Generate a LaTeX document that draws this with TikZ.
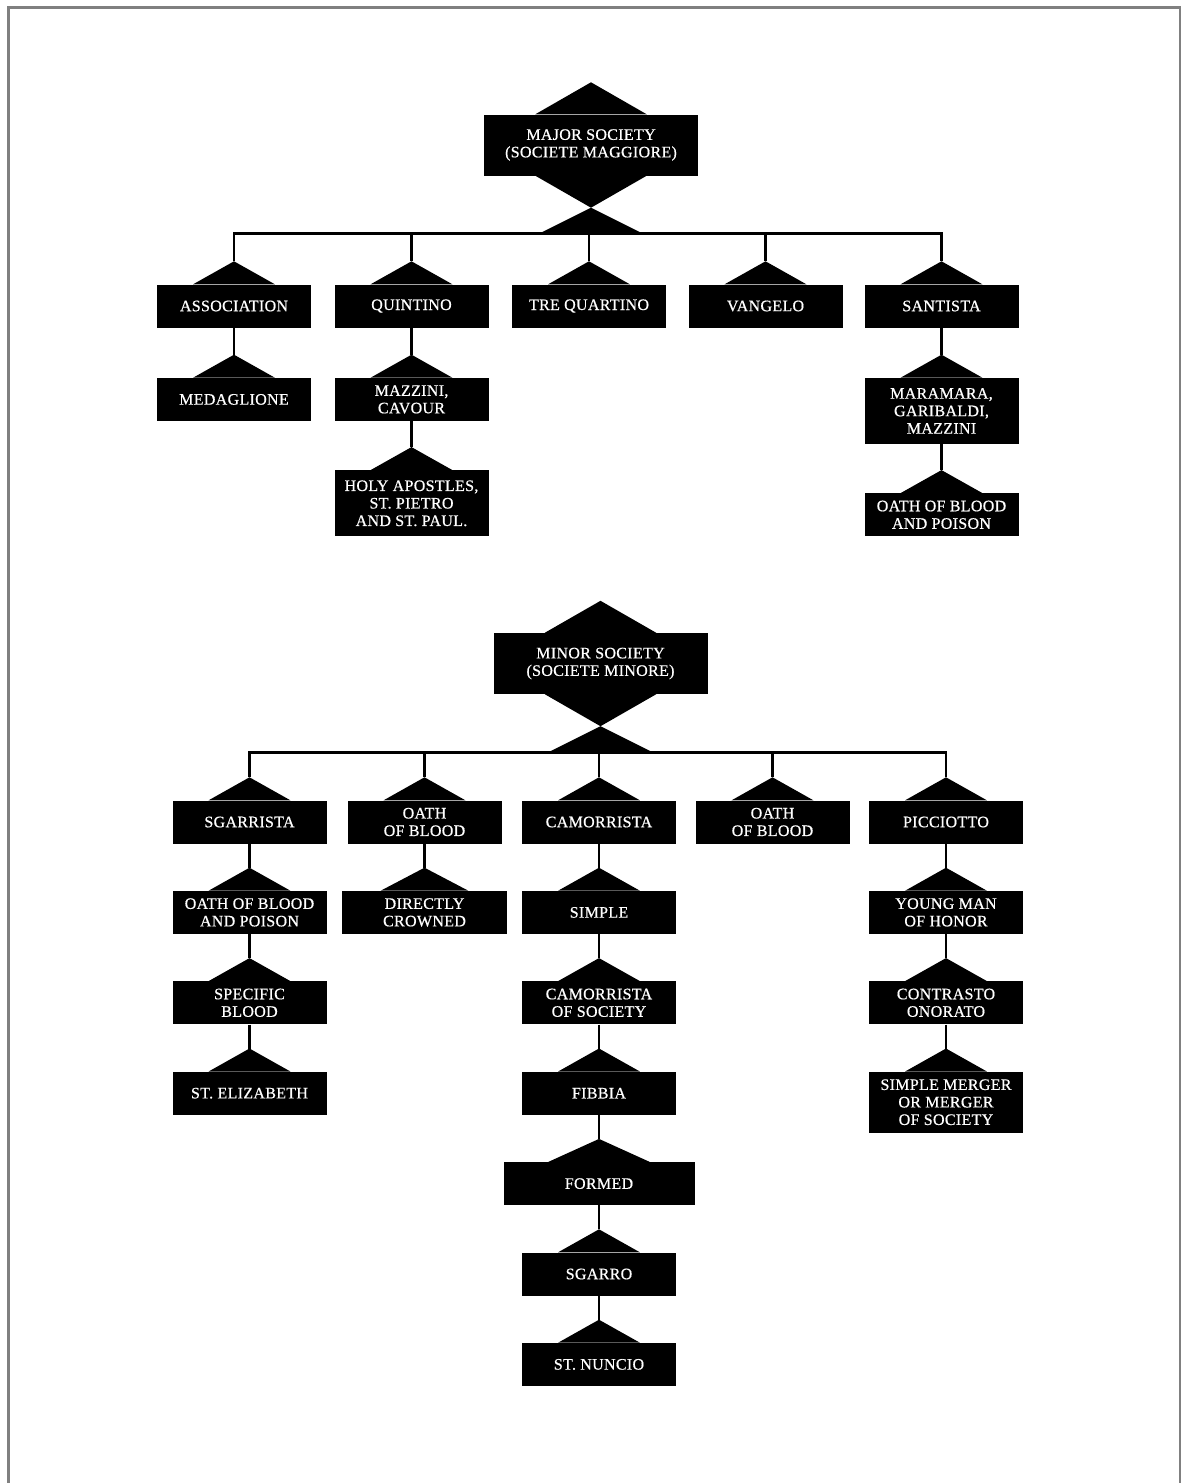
\documentclass[tikz,border=0pt]{standalone}
\usepackage{fontspec}
\newfontfamily\rankfont[LetterSpace=2, FakeBold=0.6]{Liberation Serif}
\usetikzlibrary{positioning,calc}

\begin{document}
\begin{tikzpicture}[x=1pt, y=1pt, node distance=50pt,
  rank/.style={fill=black, text=white, align=center, inner xsep=4pt, inner ysep=7pt,
               minimum width=154pt, minimum height=43pt,
               font=\rankfont\fontsize{16}{17.5}\selectfont},
  tall/.style={minimum height=66pt},
  head/.style={rank, minimum width=214pt, minimum height=61pt},
  link/.style={line width=2.8pt}]
  \useasboundingbox (0,0) rectangle (1181,-1483);
  \draw[line width=2.5pt, black!50] (8.5,-1483) -- (8.5,-7.5) -- (1180,-7.5) -- (1180,-1483);

  % major society
  \node[head] (major) at (591,-145) {MAJOR SOCIETY\\(SOCIETE MAGGIORE)};
  \node[rank] (assoc) at (234,-306)   {ASSOCIATION};
  \node[rank] (quint) at (411.5,-306) {QUINTINO};
  \node[rank] (tre)   at (589,-306)   {TRE QUARTINO};
  \node[rank] (vang)  at (765.5,-306) {VANGELO};
  \node[rank] (sant)  at (941.5,-306) {SANTISTA};
  \node[rank, below=of assoc] (medag) {MEDAGLIONE};
  \node[rank, below=of quint] (mazz)  {MAZZINI,\\CAVOUR};
  \node[rank, tall, below=49pt of mazz] (holy) {HOLY APOSTLES,\\ST. PIETRO\\AND ST. PAUL.};
  \node[rank, tall, below=of sant] (mara) {MARAMARA,\\GARIBALDI,\\MAZZINI};
  \node[rank, below=49pt of mara] (poison) {OATH OF BLOOD\\AND POISON};

  % minor society
  \begin{scope}[node distance=47pt]
  \node[head] (minor) at (600.5,-663.5) {MINOR SOCIETY\\(SOCIETE MINORE)};
  \node[rank] (sgar)  at (249.5,-822) {SGARRISTA};
  \node[rank] (oathb) at (424.5,-822) {OATH\\OF BLOOD};
  \node[rank] (camor) at (599,-822)   {CAMORRISTA};
  \node[rank] (oathc) at (772.5,-822) {OATH\\OF BLOOD};
  \node[rank] (picc)  at (946,-822)   {PICCIOTTO};
  \node[rank, below=of sgar]   (sgpois) {OATH OF BLOOD\\AND POISON};
  \node[rank, below=of sgpois] (spec)   {SPECIFIC\\BLOOD};
  \node[rank, below=of spec]   (eliz)   {ST. ELIZABETH};
  \node[rank, below=of oathb, minimum width=165pt] (crown) {DIRECTLY\\CROWNED};
  \node[rank, below=of camor]  (simple) {SIMPLE};
  \node[rank, below=of simple] (camsoc) {CAMORRISTA\\OF SOCIETY};
  \node[rank, below=of camsoc] (fibbia) {FIBBIA};
  \node[rank, below=of fibbia, minimum width=191pt] (formed) {FORMED};
  \node[rank, below=of formed] (sgarro) {SGARRO};
  \node[rank, below=of sgarro] (nuncio) {ST. NUNCIO};
  \node[rank, below=of picc]   (young)  {YOUNG MAN\\OF HONOR};
  \node[rank, below=of young]  (contr)  {CONTRASTO\\ONORATO};
  \node[rank, below=of contr, minimum height=61pt] (merger) {SIMPLE MERGER\\OR MERGER\\OF SOCIETY};
  \end{scope}

  % roofs
  \foreach \n in {assoc, quint, tre, vang, sant, medag, mazz, holy, mara, poison,
                  sgar, oathb, camor, oathc, picc, sgpois, spec, eliz, crown,
                  simple, camsoc, fibbia, formed, sgarro, nuncio, young, contr, merger}
    \fill ($(\n.north west)!0.235!(\n.north east)$) -- ([yshift=23pt]\n.north)
          -- ($(\n.north west)!0.765!(\n.north east)$) -- cycle;

  % heads and bars
  \foreach \h/\a/\b in {major/assoc/sant, minor/sgar/picc} {
    \fill ($(\h.north west)!0.24!(\h.north east)$) -- ([yshift=32pt]\h.north)
          -- ($(\h.north west)!0.76!(\h.north east)$) -- cycle;
    \fill ($(\h.south west)!0.24!(\h.south east)$) -- ([yshift=-32pt]\h.south)
          -- ($(\h.south west)!0.76!(\h.south east)$) -- cycle;
    \coordinate (\h bar) at ([yshift=-58pt]\h.south);
    \fill ([yshift=-32pt]\h.south) -- ([xshift=-52pt]\h bar) -- ([xshift=52pt]\h bar) -- cycle;
    \draw[link] ([yshift=23pt]\a.north) -- (\h bar -| \a) -- (\h bar -| \b) -- ([yshift=23pt]\b.north);
  }
  \foreach \h/\n in {major/quint, major/tre, major/vang, minor/oathb, minor/camor, minor/oathc}
    \draw[link] (\h bar -| \n) -- ([yshift=23pt]\n.north);

  % chains
  \foreach \a/\b in {assoc/medag, quint/mazz, mazz/holy, sant/mara, mara/poison,
                     sgar/sgpois, sgpois/spec, spec/eliz, oathb/crown,
                     camor/simple, simple/camsoc, camsoc/fibbia, fibbia/formed,
                     formed/sgarro, sgarro/nuncio, picc/young, young/contr, contr/merger}
    \draw[link] (\a.south) -- ([yshift=23pt]\b.north);
\end{tikzpicture}
\end{document}
